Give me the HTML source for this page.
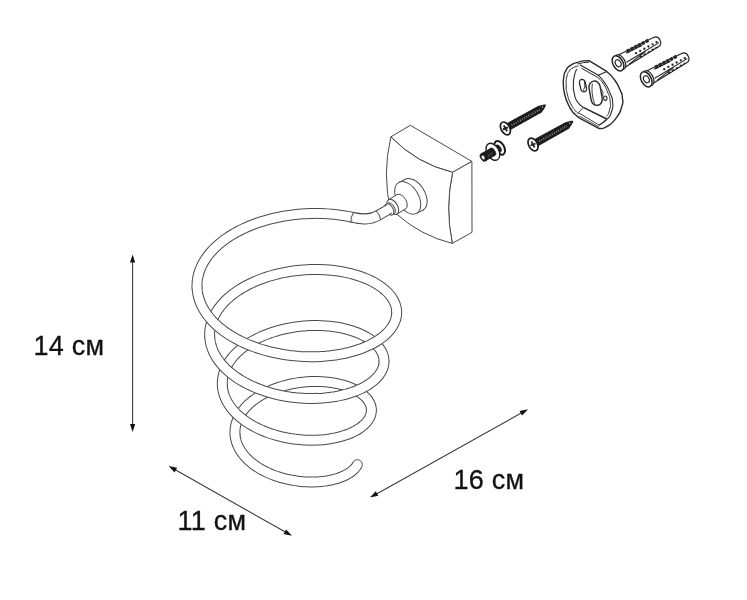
<!DOCTYPE html>
<html lang="ru"><head><meta charset="utf-8"><title>14 см × 16 см × 11 см</title>
<style>
html,body{margin:0;padding:0;background:#fff;}
body{width:747px;height:600px;overflow:hidden;}
svg{display:block;}
.t{font-family:"Liberation Sans",sans-serif;font-size:27px;fill:#111;stroke:#111;stroke-width:0.3px;letter-spacing:0.25px;}
.l{fill:none;stroke:#4a4a4a;stroke-width:1;stroke-linecap:round;stroke-linejoin:round;}
.w{fill:#fff;stroke:#4a4a4a;stroke-width:1;stroke-linejoin:round;}
.k{fill:#222;stroke:none;}
</style></head><body>
<svg width="747" height="600" viewBox="0 0 747 600">
<rect width="747" height="600" fill="#fff"/>
<!--BLOCK-->
<path class="w" d="M390.9 136.9 L410.3 125.3 L471.9 161.4 L452.6 172.3 Q416.55 163.7 390.9 136.9 Z"/>
<path class="w" d="M452.6 172.3 L471.9 161.4 L472.0 232.3 L452.3 243.4 Q444.85 207.6 452.6 172.3 Z"/>
<path class="w" d="M390.9 136.9 Q416.55 163.7 452.6 172.3 Q444.85 207.6 452.3 243.4 Q420.85 235.75 396.7 214.1 L391.0 212.0 Q381.8 174.5 390.9 136.9 Z"/>
<ellipse cx="414.10" cy="194.70" rx="17.80" ry="10.80" transform="rotate(59.08 414.10 194.70)" class="w" />
<path d="M398.55 182.63 L404.95 179.43 L423.25 209.97 L416.85 213.17 Z" fill="#fff" stroke="none"/>
<path class="l" d="M398.55 182.63 L404.95 179.43 M423.25 209.97 L416.85 213.17"/>
<ellipse cx="407.70" cy="197.90" rx="17.80" ry="10.80" transform="rotate(59.08 407.70 197.90)" class="w" />
<path d="M388.50 199.72 L397.13 194.56 L405.66 208.80 L397.04 213.97 Z" fill="#fff" stroke="none"/>
<path class="w" d="M397.13 194.56 A8.30 4.81 59.08 0 1 405.66 208.80" />
<path class="l" d="M388.50 199.72 L397.13 194.56 M405.66 208.80 L397.04 213.97"/>
<ellipse cx="392.77" cy="206.84" rx="8.30" ry="4.81" transform="rotate(59.08 392.77 206.84)" class="w" />
<ellipse cx="390.83" cy="208.47" rx="6.30" ry="3.65" transform="rotate(59.08 390.83 208.47)" class="w" />
<path d="M386.05 203.99 L387.59 203.07 L394.07 213.88 L392.53 214.80 Z" fill="#fff" stroke="none"/>
<ellipse cx="389.29" cy="209.40" rx="6.30" ry="3.65" transform="rotate(59.08 389.29 209.40)" class="w" />
<!--HW-->
<path d="M502.67 122.48 L507.51 122.75 L538.05 105.93 L544.12 104.49 L545.81 104.45 L545.83 105.71 L544.22 108.78 L541.66 112.39 L511.32 129.56 L509.01 133.83 Z" fill="#1c1c1c"/>
<line x1="511.66" y1="125.25" x2="539.56" y2="109.66" stroke="#9c9c9c" stroke-width="2.0" stroke-dasharray="0.8 1.6"/>
<circle cx="542.44" cy="107.02" r="0.7" fill="#ccc"/>
<ellipse cx="505.40" cy="128.40" rx="6.9" ry="4.3" transform="rotate(60.82 505.40 128.40)" fill="#fff" stroke="#1c1c1c" stroke-width="1.7"/>
<path d="M503.79 125.52 L507.01 131.28 M502.90 129.40 L507.90 127.40" stroke="#1c1c1c" stroke-width="1.8" fill="none"/>
<path d="M530.27 138.58 L535.12 138.85 L565.35 122.22 L571.42 120.78 L573.12 120.75 L573.13 122.00 L571.52 125.08 L568.95 128.68 L538.92 145.67 L536.60 149.93 Z" fill="#1c1c1c"/>
<line x1="539.26" y1="141.35" x2="566.86" y2="125.96" stroke="#9c9c9c" stroke-width="2.0" stroke-dasharray="0.8 1.6"/>
<circle cx="569.74" cy="123.32" r="0.7" fill="#ccc"/>
<ellipse cx="533.00" cy="144.50" rx="6.9" ry="4.3" transform="rotate(60.85 533.00 144.50)" fill="#fff" stroke="#1c1c1c" stroke-width="1.7"/>
<path d="M531.39 141.62 L534.61 147.38 M530.50 145.50 L535.50 143.50" stroke="#1c1c1c" stroke-width="1.8" fill="none"/>
<ellipse cx="499.66" cy="147.86" rx="7.40" ry="4.50" transform="rotate(59.87 499.66 147.86)" fill="#fff" stroke="#1c1c1c" stroke-width="2.00"/>
<line x1="492.91" y1="151.78" x2="498.54" y2="148.52" stroke="#1c1c1c" stroke-width="8.2"/>
<ellipse cx="498.54" cy="148.52" rx="4.10" ry="2.40" transform="rotate(59.87 498.54 148.52)" fill="#1c1c1c" stroke="#1c1c1c" stroke-width="0.50"/>
<ellipse cx="492.91" cy="151.78" rx="9.20" ry="6.00" transform="rotate(59.87 492.91 151.78)" fill="#fff" stroke="#1c1c1c" stroke-width="1.40"/>
<line x1="483.66" y1="157.15" x2="492.74" y2="151.88" stroke="#1c1c1c" stroke-width="8.9"/>
<ellipse cx="492.74" cy="151.88" rx="4.30" ry="2.50" transform="rotate(59.87 492.74 151.88)" fill="#1c1c1c" stroke="#1c1c1c" stroke-width="0.50"/>
<line x1="486.40" y1="156.49" x2="492.45" y2="152.97" stroke="#777" stroke-width="2.2" stroke-dasharray="0.6 1.4"/>
<ellipse cx="483.57" cy="157.20" rx="4.45" ry="3.10" transform="rotate(59.87 483.57 157.20)" fill="#1c1c1c" stroke="#1c1c1c" stroke-width="0.50"/>
<ellipse cx="483.14" cy="157.45" rx="2.30" ry="1.50" transform="rotate(59.87 483.14 157.45)" fill="#fff" stroke="#1c1c1c" stroke-width="0.40"/>
<path d="M563.40 86.00 C563.50 83.17 562.83 82.73 563.70 77.50 C564.57 72.27 563.70 74.37 566.00 70.30 C568.30 66.23 566.73 67.97 570.60 65.30 C574.47 62.63 573.43 63.77 577.60 62.30 C581.77 60.83 581.27 61.37 583.10 60.90 L589.00 60.60 L606.70 71.40 C609.20 74.07 609.80 73.37 614.20 79.40 C618.60 85.43 617.17 83.30 619.90 89.50 C622.63 95.70 621.80 92.20 622.40 98.00 C623.00 103.80 623.80 100.20 621.70 106.90 C619.60 113.60 621.10 111.53 616.10 118.10 C611.10 124.67 612.33 123.10 606.70 126.60 C601.07 130.10 601.70 127.93 599.20 128.60 L579.10 117.80 C577.73 116.60 577.43 116.60 575.00 114.20 C572.57 111.80 574.33 114.47 571.80 110.60 C569.27 106.73 569.83 108.30 567.40 102.60 C564.97 96.90 565.83 99.03 564.50 93.50 C563.17 87.97 563.77 88.50 563.40 86.00 Z" fill="#fff" stroke="#2a2a2a" stroke-width="1.4" stroke-linejoin="round"/>
<path d="M577.6 64.0 L583.4 62.6 L589.2 62.2" stroke="#2a2a2a" stroke-width="1" fill="none"/>
<path d="M579.8 64.8 L598.3 75.2 C600.50 77.83 600.93 77.00 604.90 83.10 C608.87 89.20 607.63 87.20 610.20 93.50 C612.77 99.80 612.13 96.00 612.60 102.00 C613.07 108.00 613.50 105.73 611.60 111.50 C609.70 117.27 611.03 114.73 606.90 119.30 C602.77 123.87 601.77 123.23 599.20 125.20" fill="none" stroke="#2a2a2a" stroke-width="1.1"/>
<path d="M598.3 75.2 L606.7 71.4" fill="none" stroke="#2a2a2a" stroke-width="1.1"/>
<path d="M578.80 113.80 C577.63 112.73 577.97 113.93 575.30 110.60 C572.63 107.27 573.43 109.17 570.80 103.80 C568.17 98.43 568.93 100.70 567.40 94.50 C565.87 88.30 566.40 91.03 566.20 85.20 C566.00 79.37 565.80 81.67 566.80 77.00 C567.80 72.33 567.07 74.30 569.20 71.20 C571.33 68.10 570.13 69.47 573.20 67.70 C576.27 65.93 576.67 66.50 578.40 65.90" fill="none" stroke="#2a2a2a" stroke-width="1"/>
<path d="M581.40 68.20 L597.3 77.2 C599.20 79.20 599.53 78.10 603.00 83.20 C606.47 88.30 605.30 86.40 607.70 92.50 C610.10 98.60 609.63 95.50 610.20 101.50 C610.77 107.50 610.57 105.50 609.40 110.50 C608.23 115.50 607.60 114.50 606.70 116.50" fill="none" stroke="#2a2a2a" stroke-width="1"/>
<path d="M576.70 69.00 C575.93 71.27 575.50 70.40 574.40 75.80 C573.30 81.20 573.43 79.37 573.40 85.20 C573.37 91.03 573.03 87.87 574.30 93.30 C575.57 98.73 574.20 96.83 577.20 101.50 C580.20 106.17 581.27 105.37 583.30 107.30" fill="none" stroke="#2a2a2a" stroke-width="1.1"/>
<path d="M583.3 107.3 L606.7 119.0" fill="none" stroke="#2a2a2a" stroke-width="1.5"/>
<path d="M583.3 107.3 L578.4 112.6 L599.2 125.2 L606.7 119.0" fill="none" stroke="#2a2a2a" stroke-width="0.9"/>
<path d="M579.6 116.1 L599.2 127.0" fill="none" stroke="#2a2a2a" stroke-width="0.8"/>
<rect x="-2.90" y="-6.30" width="5.80" height="12.60" rx="2.90" ry="3.33" transform="translate(583.00 85.60) rotate(-13.0)" fill="#fff" stroke="#2a2a2a" stroke-width="1.30"/>
<path d="M584.3 80.6 L584.9 86.5 L583.4 90.6 M584.9 86.5 L586.0 87.0" fill="none" stroke="#2a2a2a" stroke-width="0.9"/>
<rect x="-5.60" y="-12.30" width="11.20" height="24.60" rx="5.60" ry="6.44" transform="translate(595.60 93.20) rotate(-10.0)" fill="#fff" stroke="#2a2a2a" stroke-width="1.40"/>
<path d="M592.3 83.6 C591.4 90 592.2 98 594.6 103.6" fill="none" stroke="#2a2a2a" stroke-width="0.9"/>
<path d="M600.9 88.6 L603.0 92.0 L602.6 96.5" fill="none" stroke="#2a2a2a" stroke-width="0.9"/>
<ellipse cx="605.3" cy="98.2" rx="1.7" ry="2.2" fill="#fff" stroke="#2a2a2a" stroke-width="1.1"/>
<path d="M616.36 56.01 L653.98 37.33 Q657.92 35.79 660.05 40.20 Q662.09 44.44 658.84 46.41 L623.07 68.52 Z" fill="#fff" stroke="#262626" stroke-width="1.2" stroke-linejoin="round"/>
<line x1="626.92" y1="51.38" x2="649.13" y2="39.93" stroke="#262626" stroke-width="3.4" stroke-dasharray="3.1 1.1"/>
<line x1="626.21" y1="53.23" x2="642.26" y2="45.09" stroke="#262626" stroke-width="1.4"/>
<path d="M626.56 62.34 L659.09 42.65M628.76 64.34 L645.56 51.25" fill="none" stroke="#262626" stroke-width="1.1"/>
<path d="M639.69 57.23 L656.94 47.09" fill="none" stroke="#262626" stroke-width="1.6" stroke-dasharray="2.4 2.2"/>
<circle cx="636.05" cy="53.18" r="1.15" fill="#262626"/>
<circle cx="640.19" cy="50.96" r="1.15" fill="#262626"/>
<circle cx="644.33" cy="48.74" r="1.15" fill="#262626"/>
<circle cx="648.47" cy="46.52" r="1.15" fill="#262626"/>
<circle cx="652.61" cy="44.30" r="1.15" fill="#262626"/>
<circle cx="656.58" cy="42.18" r="1.15" fill="#262626"/>
<ellipse cx="620.11" cy="62.17" rx="8.00" ry="4.80" transform="rotate(61.82 620.11 62.17)" fill="#fff" stroke="#262626" stroke-width="1.20"/>
<ellipse cx="618.00" cy="63.30" rx="8.20" ry="5.00" transform="rotate(61.82 618.00 63.30)" fill="#fff" stroke="#262626" stroke-width="1.50"/>
<ellipse cx="618.18" cy="63.21" rx="3.70" ry="2.70" transform="rotate(61.82 618.18 63.21)" fill="#fff" stroke="#262626" stroke-width="1.20"/>
<path d="M644.56 72.01 L682.18 53.33 Q686.12 51.79 688.25 56.20 Q690.29 60.44 687.04 62.41 L651.27 84.52 Z" fill="#fff" stroke="#262626" stroke-width="1.2" stroke-linejoin="round"/>
<line x1="655.12" y1="67.38" x2="677.33" y2="55.93" stroke="#262626" stroke-width="3.4" stroke-dasharray="3.1 1.1"/>
<line x1="654.41" y1="69.23" x2="670.46" y2="61.09" stroke="#262626" stroke-width="1.4"/>
<path d="M654.76 78.34 L687.29 58.65M656.96 80.34 L673.76 67.25" fill="none" stroke="#262626" stroke-width="1.1"/>
<path d="M667.89 73.23 L685.14 63.09" fill="none" stroke="#262626" stroke-width="1.6" stroke-dasharray="2.4 2.2"/>
<circle cx="664.25" cy="69.18" r="1.15" fill="#262626"/>
<circle cx="668.39" cy="66.96" r="1.15" fill="#262626"/>
<circle cx="672.53" cy="64.74" r="1.15" fill="#262626"/>
<circle cx="676.67" cy="62.52" r="1.15" fill="#262626"/>
<circle cx="680.81" cy="60.30" r="1.15" fill="#262626"/>
<circle cx="684.78" cy="58.18" r="1.15" fill="#262626"/>
<ellipse cx="648.31" cy="78.17" rx="8.00" ry="4.80" transform="rotate(61.82 648.31 78.17)" fill="#fff" stroke="#262626" stroke-width="1.20"/>
<ellipse cx="646.20" cy="79.30" rx="8.20" ry="5.00" transform="rotate(61.82 646.20 79.30)" fill="#fff" stroke="#262626" stroke-width="1.50"/>
<ellipse cx="646.38" cy="79.21" rx="3.70" ry="2.70" transform="rotate(61.82 646.38 79.21)" fill="#fff" stroke="#262626" stroke-width="1.20"/>
<!--SPIRAL-->
<path d="M351.63 217.17 C361.35 219.5 369.74 220.3 378.4 215.3 L389.4 208.85" fill="none" stroke="#4a4a4a" stroke-width="10.90"/>
<path d="M350.93 217.00 C361.35 219.5 369.74 220.3 378.4 215.3 L390.0 208.5" fill="none" stroke="#fff" stroke-width="8.90"/>
<path d="M353.10 217.47 L351.63 217.17 L348.32 216.48 L344.96 215.87 L341.55 215.32 L338.10 214.84 L334.60 214.42 L331.07 214.08 L327.50 213.81 L323.91 213.61 L320.29 213.48 L316.66 213.42 L313.00 213.44 L309.34 213.53 L305.67 213.69 L302.00 213.92 L298.33 214.22 L294.67 214.60 L291.02 215.05 L287.39 215.57 L283.77 216.17 L280.18 216.83 L276.62 217.57 L273.09 218.37 L269.59 219.25 L266.14 220.19 L262.73 221.20 L259.37 222.27 L256.07 223.41 L252.82 224.62 L249.63 225.89 L246.51 227.22 L243.45 228.61 L240.47 230.06 L237.56 231.57 L234.73 233.13 L231.98 234.75 L229.31 236.42 L226.74 238.14 L224.25 239.91 L221.86 241.72 L219.57 243.59 L217.37 245.49 L215.28 247.44 L213.29 249.42 L211.40 251.45 L209.63 253.51 L207.96 255.60 L206.41 257.72 L204.97 259.87 L203.64 262.04 L202.44 264.24 L201.35 266.47 L200.38 268.71 L199.53 270.96 L198.80 273.23 L198.19 275.52 L197.71 277.81 L197.35 280.11 L197.11 282.41 L196.99 284.72 L197.00 287.03 L197.01 288.52" fill="none" stroke="#4a4a4a" stroke-width="10.90"/>
<path d="M353.20 217.49 L351.63 217.17 L348.32 216.48 L344.96 215.87 L341.55 215.32 L338.10 214.84 L334.60 214.42 L331.07 214.08 L327.50 213.81 L323.91 213.61 L320.29 213.48 L316.66 213.42 L313.00 213.44 L309.34 213.53 L305.67 213.69 L302.00 213.92 L298.33 214.22 L294.67 214.60 L291.02 215.05 L287.39 215.57 L283.77 216.17 L280.18 216.83 L276.62 217.57 L273.09 218.37 L269.59 219.25 L266.14 220.19 L262.73 221.20 L259.37 222.27 L256.07 223.41 L252.82 224.62 L249.63 225.89 L246.51 227.22 L243.45 228.61 L240.47 230.06 L237.56 231.57 L234.73 233.13 L231.98 234.75 L229.31 236.42 L226.74 238.14 L224.25 239.91 L221.86 241.72 L219.57 243.59 L217.37 245.49 L215.28 247.44 L213.29 249.42 L211.40 251.45 L209.63 253.51 L207.96 255.60 L206.41 257.72 L204.97 259.87 L203.64 262.04 L202.44 264.24 L201.35 266.47 L200.38 268.71 L199.53 270.96 L198.80 273.23 L198.19 275.52 L197.71 277.81 L197.35 280.11 L197.11 282.41 L196.99 284.72 L197.00 287.03 L197.01 288.62" fill="none" stroke="#fff" stroke-width="8.90"/>
<path d="M396.82 312.97 L396.67 311.48 L396.43 308.99 L395.93 306.52 L395.17 304.08 L394.15 301.66 L392.87 299.28 L391.34 296.94 L389.56 294.66 L387.54 292.44 L385.29 290.28 L382.81 288.20 L380.10 286.20 L377.19 284.29 L374.06 282.47 L370.74 280.74 L367.24 279.13 L363.56 277.62 L359.71 276.23 L355.71 274.95 L351.56 273.80 L347.28 272.78 L342.88 271.89 L338.38 271.14 L333.78 270.52 L329.09 270.04 L324.34 269.71 L319.53 269.52 L314.68 269.47 L309.80 269.57 L304.90 269.82 L300.00 270.21 L295.11 270.75 L290.25 271.44 L285.42 272.27 L280.65 273.25 L275.93 274.36 L271.30 275.62 L266.75 277.01 L262.31 278.54 L257.98 280.19 L253.77 281.98 L249.70 283.88 L245.78 285.90 L242.01 288.04 L238.42 290.28 L235.00 292.63 L231.76 295.08 L228.72 297.61 L225.88 300.23 L223.26 302.93 L220.84 305.71 L218.65 308.55 L216.69 311.45 L214.96 314.40 L213.47 317.40 L212.22 320.43 L211.21 323.50 L210.45 326.59 L209.94 329.70 L209.67 332.81 L209.65 335.93 L209.64 337.42" fill="none" stroke="#4a4a4a" stroke-width="10.90"/>
<path d="M396.82 313.07 L396.67 311.48 L396.43 308.99 L395.93 306.52 L395.17 304.08 L394.15 301.66 L392.87 299.28 L391.34 296.94 L389.56 294.66 L387.54 292.44 L385.29 290.28 L382.81 288.20 L380.10 286.20 L377.19 284.29 L374.06 282.47 L370.74 280.74 L367.24 279.13 L363.56 277.62 L359.71 276.23 L355.71 274.95 L351.56 273.80 L347.28 272.78 L342.88 271.89 L338.38 271.14 L333.78 270.52 L329.09 270.04 L324.34 269.71 L319.53 269.52 L314.68 269.47 L309.80 269.57 L304.90 269.82 L300.00 270.21 L295.11 270.75 L290.25 271.44 L285.42 272.27 L280.65 273.25 L275.93 274.36 L271.30 275.62 L266.75 277.01 L262.31 278.54 L257.98 280.19 L253.77 281.98 L249.70 283.88 L245.78 285.90 L242.01 288.04 L238.42 290.28 L235.00 292.63 L231.76 295.08 L228.72 297.61 L225.88 300.23 L223.26 302.93 L220.84 305.71 L218.65 308.55 L216.69 311.45 L214.96 314.40 L213.47 317.40 L212.22 320.43 L211.21 323.50 L210.45 326.59 L209.94 329.70 L209.67 332.81 L209.65 335.93 L209.64 337.52" fill="none" stroke="#fff" stroke-width="8.90"/>
<path d="M384.18 361.87 L384.02 360.38 L383.80 358.27 L383.35 356.18 L382.68 354.11 L381.77 352.06 L380.65 350.05 L379.31 348.08 L377.75 346.16 L375.99 344.28 L374.02 342.47 L371.85 340.72 L369.49 339.04 L366.95 337.44 L364.23 335.92 L361.34 334.49 L358.29 333.14 L355.09 331.90 L351.75 330.75 L348.27 329.71 L344.67 328.77 L340.96 327.95 L337.14 327.24 L333.23 326.65 L329.24 326.17 L325.18 325.82 L321.06 325.60 L316.90 325.49 L312.70 325.52 L308.47 325.67 L304.24 325.94 L300.00 326.35 L295.77 326.88 L291.57 327.54 L287.40 328.32 L283.28 329.22 L279.21 330.25 L275.21 331.40 L271.29 332.67 L267.45 334.05 L263.72 335.54 L260.10 337.14 L256.59 338.85 L253.22 340.66 L249.98 342.56 L246.88 344.56 L243.94 346.65 L241.16 348.82 L238.55 351.07 L236.12 353.39 L233.86 355.78 L231.80 358.23 L229.93 360.73 L228.25 363.29 L226.77 365.89 L225.50 368.53 L224.44 371.21 L223.59 373.90 L222.95 376.62 L222.52 379.35 L222.30 382.09 L222.30 384.82 L222.30 386.32" fill="none" stroke="#4a4a4a" stroke-width="10.90"/>
<path d="M384.19 361.97 L384.02 360.38 L383.80 358.27 L383.35 356.18 L382.68 354.11 L381.77 352.06 L380.65 350.05 L379.31 348.08 L377.75 346.16 L375.99 344.28 L374.02 342.47 L371.85 340.72 L369.49 339.04 L366.95 337.44 L364.23 335.92 L361.34 334.49 L358.29 333.14 L355.09 331.90 L351.75 330.75 L348.27 329.71 L344.67 328.77 L340.96 327.95 L337.14 327.24 L333.23 326.65 L329.24 326.17 L325.18 325.82 L321.06 325.60 L316.90 325.49 L312.70 325.52 L308.47 325.67 L304.24 325.94 L300.00 326.35 L295.77 326.88 L291.57 327.54 L287.40 328.32 L283.28 329.22 L279.21 330.25 L275.21 331.40 L271.29 332.67 L267.45 334.05 L263.72 335.54 L260.10 337.14 L256.59 338.85 L253.22 340.66 L249.98 342.56 L246.88 344.56 L243.94 346.65 L241.16 348.82 L238.55 351.07 L236.12 353.39 L233.86 355.78 L231.80 358.23 L229.93 360.73 L228.25 363.29 L226.77 365.89 L225.50 368.53 L224.44 371.21 L223.59 373.90 L222.95 376.62 L222.52 379.35 L222.30 382.09 L222.30 384.82 L222.30 386.42" fill="none" stroke="#fff" stroke-width="8.90"/>
<path d="M371.55 410.76 L371.37 409.28 L371.17 407.55 L370.77 405.84 L370.18 404.14 L369.40 402.47 L368.43 400.82 L367.28 399.22 L365.94 397.65 L364.43 396.13 L362.75 394.65 L360.90 393.24 L358.89 391.88 L356.72 390.59 L354.40 389.37 L351.94 388.23 L349.35 387.16 L346.63 386.17 L343.79 385.27 L340.84 384.46 L337.78 383.74 L334.63 383.11 L331.40 382.59 L328.09 382.16 L324.71 381.83 L321.27 381.60 L317.79 381.48 L314.27 381.47 L310.72 381.56 L307.15 381.76 L303.58 382.07 L300.00 382.48 L296.44 383.01 L292.89 383.63 L289.38 384.37 L285.91 385.20 L282.48 386.14 L279.12 387.18 L275.82 388.32 L272.60 389.56 L269.46 390.89 L266.42 392.31 L263.48 393.82 L260.65 395.41 L257.94 397.09 L255.35 398.84 L252.89 400.66 L250.56 402.56 L248.38 404.52 L246.35 406.54 L244.47 408.62 L242.75 410.74 L241.20 412.92 L239.81 415.14 L238.58 417.39 L237.53 419.67 L236.66 421.98 L235.96 424.31 L235.44 426.65 L235.10 429.01 L234.94 431.37 L234.95 433.73 L234.96 435.22" fill="none" stroke="#4a4a4a" stroke-width="10.90"/>
<path d="M371.56 410.86 L371.37 409.28 L371.17 407.55 L370.77 405.84 L370.18 404.14 L369.40 402.47 L368.43 400.82 L367.28 399.22 L365.94 397.65 L364.43 396.13 L362.75 394.65 L360.90 393.24 L358.89 391.88 L356.72 390.59 L354.40 389.37 L351.94 388.23 L349.35 387.16 L346.63 386.17 L343.79 385.27 L340.84 384.46 L337.78 383.74 L334.63 383.11 L331.40 382.59 L328.09 382.16 L324.71 381.83 L321.27 381.60 L317.79 381.48 L314.27 381.47 L310.72 381.56 L307.15 381.76 L303.58 382.07 L300.00 382.48 L296.44 383.01 L292.89 383.63 L289.38 384.37 L285.91 385.20 L282.48 386.14 L279.12 387.18 L275.82 388.32 L272.60 389.56 L269.46 390.89 L266.42 392.31 L263.48 393.82 L260.65 395.41 L257.94 397.09 L255.35 398.84 L252.89 400.66 L250.56 402.56 L248.38 404.52 L246.35 406.54 L244.47 408.62 L242.75 410.74 L241.20 412.92 L239.81 415.14 L238.58 417.39 L237.53 419.67 L236.66 421.98 L235.96 424.31 L235.44 426.65 L235.10 429.01 L234.94 431.37 L234.95 433.73 L234.96 435.32" fill="none" stroke="#fff" stroke-width="8.90"/>
<circle cx="357.37" cy="464.64" r="4.95" fill="#fff" stroke="#4a4a4a" stroke-width="1"/>
<path d="M197.00 287.03 L197.25 290.51 L197.78 293.99 L198.58 297.44 L199.67 300.85 L201.02 304.23 L202.65 307.56 L204.53 310.84 L206.68 314.05 L209.07 317.19 L211.71 320.26 L214.59 323.23 L217.70 326.12 L221.02 328.91 L224.55 331.59 L228.29 334.16 L232.21 336.61 L236.31 338.94 L240.57 341.14 L244.99 343.22 L249.56 345.15 L254.25 346.95 L259.05 348.60 L263.96 350.10 L268.95 351.46 L274.02 352.66 L279.16 353.71 L284.33 354.61 L289.54 355.35 L294.77 355.93 L300.00 356.36 L305.22 356.62 L310.41 356.74 L315.57 356.70 L320.67 356.50 L325.70 356.16 L330.66 355.66 L335.51 355.02 L340.26 354.24 L344.89 353.32 L349.39 352.26 L353.74 351.07 L357.94 349.75 L361.97 348.32 L365.82 346.77 L369.48 345.10 L372.94 343.34 L376.19 341.47 L379.23 339.51 L382.05 337.47 L384.63 335.35 L386.98 333.16 L389.09 330.90 L390.94 328.59 L392.54 326.23 L393.89 323.83 L394.97 321.39 L395.79 318.93 L396.35 316.45 L396.65 313.96 L396.67 311.48" fill="none" stroke="#4a4a4a" stroke-width="10.90"/>
<path d="M196.95 286.33 L197.00 287.03 L197.25 290.51 L197.78 293.99 L198.58 297.44 L199.67 300.85 L201.02 304.23 L202.65 307.56 L204.53 310.84 L206.68 314.05 L209.07 317.19 L211.71 320.26 L214.59 323.23 L217.70 326.12 L221.02 328.91 L224.55 331.59 L228.29 334.16 L232.21 336.61 L236.31 338.94 L240.57 341.14 L244.99 343.22 L249.56 345.15 L254.25 346.95 L259.05 348.60 L263.96 350.10 L268.95 351.46 L274.02 352.66 L279.16 353.71 L284.33 354.61 L289.54 355.35 L294.77 355.93 L300.00 356.36 L305.22 356.62 L310.41 356.74 L315.57 356.70 L320.67 356.50 L325.70 356.16 L330.66 355.66 L335.51 355.02 L340.26 354.24 L344.89 353.32 L349.39 352.26 L353.74 351.07 L357.94 349.75 L361.97 348.32 L365.82 346.77 L369.48 345.10 L372.94 343.34 L376.19 341.47 L379.23 339.51 L382.05 337.47 L384.63 335.35 L386.98 333.16 L389.09 330.90 L390.94 328.59 L392.54 326.23 L393.89 323.83 L394.97 321.39 L395.79 318.93 L396.35 316.45 L396.65 313.96 L396.67 311.48 L396.68 310.78" fill="none" stroke="#fff" stroke-width="8.90"/>
<path d="M209.65 335.93 L209.88 339.03 L210.36 342.13 L211.08 345.20 L212.04 348.25 L213.24 351.26 L214.68 354.23 L216.34 357.15 L218.23 360.01 L220.35 362.81 L222.67 365.54 L225.20 368.19 L227.93 370.77 L230.85 373.25 L233.96 375.64 L237.23 377.94 L240.67 380.13 L244.27 382.22 L248.01 384.19 L251.88 386.05 L255.88 387.79 L259.99 389.40 L264.20 390.89 L268.49 392.25 L272.86 393.48 L277.30 394.57 L281.79 395.54 L286.31 396.36 L290.86 397.05 L295.43 397.60 L300.00 398.02 L304.56 398.30 L309.09 398.44 L313.59 398.45 L318.04 398.32 L322.43 398.07 L326.75 397.68 L330.98 397.17 L335.12 396.53 L339.15 395.77 L343.07 394.89 L346.85 393.90 L350.50 392.80 L354.00 391.59 L357.35 390.29 L360.53 388.89 L363.54 387.39 L366.36 385.82 L369.00 384.16 L371.44 382.43 L373.68 380.63 L375.71 378.77 L377.53 376.86 L379.13 374.90 L380.51 372.89 L381.67 370.85 L382.60 368.79 L383.30 366.70 L383.77 364.60 L384.01 362.49 L384.02 360.38" fill="none" stroke="#4a4a4a" stroke-width="10.90"/>
<path d="M209.60 335.23 L209.65 335.93 L209.88 339.03 L210.36 342.13 L211.08 345.20 L212.04 348.25 L213.24 351.26 L214.68 354.23 L216.34 357.15 L218.23 360.01 L220.35 362.81 L222.67 365.54 L225.20 368.19 L227.93 370.77 L230.85 373.25 L233.96 375.64 L237.23 377.94 L240.67 380.13 L244.27 382.22 L248.01 384.19 L251.88 386.05 L255.88 387.79 L259.99 389.40 L264.20 390.89 L268.49 392.25 L272.86 393.48 L277.30 394.57 L281.79 395.54 L286.31 396.36 L290.86 397.05 L295.43 397.60 L300.00 398.02 L304.56 398.30 L309.09 398.44 L313.59 398.45 L318.04 398.32 L322.43 398.07 L326.75 397.68 L330.98 397.17 L335.12 396.53 L339.15 395.77 L343.07 394.89 L346.85 393.90 L350.50 392.80 L354.00 391.59 L357.35 390.29 L360.53 388.89 L363.54 387.39 L366.36 385.82 L369.00 384.16 L371.44 382.43 L373.68 380.63 L375.71 378.77 L377.53 376.86 L379.13 374.90 L380.51 372.89 L381.67 370.85 L382.60 368.79 L383.30 366.70 L383.77 364.60 L384.01 362.49 L384.02 360.38 L384.03 359.68" fill="none" stroke="#fff" stroke-width="8.90"/>
<path d="M222.30 384.82 L222.51 387.56 L222.94 390.27 L223.57 392.97 L224.41 395.65 L225.46 398.29 L226.71 400.89 L228.15 403.45 L229.79 405.97 L231.62 408.42 L233.62 410.82 L235.81 413.15 L238.16 415.41 L240.68 417.60 L243.36 419.70 L246.18 421.72 L249.14 423.66 L252.23 425.49 L255.45 427.24 L258.77 428.88 L262.21 430.42 L265.73 431.85 L269.34 433.18 L273.02 434.39 L276.77 435.50 L280.57 436.49 L284.42 437.36 L288.29 438.12 L292.19 438.76 L296.09 439.28 L300.00 439.68 L303.90 439.97 L307.77 440.15 L311.61 440.20 L315.41 440.15 L319.15 439.98 L322.84 439.70 L326.45 439.31 L329.97 438.82 L333.41 438.22 L336.74 437.52 L339.96 436.73 L343.07 435.85 L346.04 434.87 L348.89 433.81 L351.59 432.67 L354.14 431.45 L356.53 430.16 L358.76 428.81 L360.83 427.39 L362.72 425.91 L364.44 424.39 L365.97 422.82 L367.32 421.20 L368.48 419.56 L369.45 417.88 L370.23 416.18 L370.81 414.47 L371.19 412.74 L371.38 411.01 L371.37 409.28" fill="none" stroke="#4a4a4a" stroke-width="10.90"/>
<path d="M222.25 384.13 L222.30 384.82 L222.51 387.56 L222.94 390.27 L223.57 392.97 L224.41 395.65 L225.46 398.29 L226.71 400.89 L228.15 403.45 L229.79 405.97 L231.62 408.42 L233.62 410.82 L235.81 413.15 L238.16 415.41 L240.68 417.60 L243.36 419.70 L246.18 421.72 L249.14 423.66 L252.23 425.49 L255.45 427.24 L258.77 428.88 L262.21 430.42 L265.73 431.85 L269.34 433.18 L273.02 434.39 L276.77 435.50 L280.57 436.49 L284.42 437.36 L288.29 438.12 L292.19 438.76 L296.09 439.28 L300.00 439.68 L303.90 439.97 L307.77 440.15 L311.61 440.20 L315.41 440.15 L319.15 439.98 L322.84 439.70 L326.45 439.31 L329.97 438.82 L333.41 438.22 L336.74 437.52 L339.96 436.73 L343.07 435.85 L346.04 434.87 L348.89 433.81 L351.59 432.67 L354.14 431.45 L356.53 430.16 L358.76 428.81 L360.83 427.39 L362.72 425.91 L364.44 424.39 L365.97 422.82 L367.32 421.20 L368.48 419.56 L369.45 417.88 L370.23 416.18 L370.81 414.47 L371.19 412.74 L371.38 411.01 L371.37 409.28 L371.37 408.58" fill="none" stroke="#fff" stroke-width="8.90"/>
<path d="M234.95 433.73 L235.12 435.89 L235.45 438.04 L235.92 440.18 L236.54 442.31 L237.30 444.41 L238.21 446.48 L239.26 448.53 L240.44 450.54 L241.76 452.52 L243.21 454.45 L244.79 456.35 L246.50 458.19 L248.32 459.98 L250.25 461.72 L252.30 463.40 L254.45 465.03 L256.70 466.59 L259.04 468.08 L261.47 469.51 L263.98 470.86 L266.57 472.15 L269.23 473.36 L271.95 474.50 L274.73 475.56 L277.56 476.54 L280.43 477.44 L283.34 478.26 L286.28 479.00 L289.24 479.66 L292.21 480.23 L295.20 480.73 L298.18 481.14 L301.17 481.47 L304.14 481.71 L307.09 481.88 L310.01 481.96 L312.90 481.97 L315.76 481.89 L318.57 481.74 L321.32 481.51 L324.02 481.21 L326.65 480.84 L329.22 480.40 L331.70 479.88 L334.11 479.30 L336.43 478.66 L338.65 477.96 L340.78 477.20 L342.81 476.38 L344.74 475.51 L346.55 474.59 L348.25 473.63 L349.83 472.62 L351.29 471.57 L352.63 470.48 L353.84 469.37 L354.92 468.22 L355.87 467.05 L356.68 465.86 L357.37 464.64" fill="none" stroke="#4a4a4a" stroke-width="10.90"/>
<path d="M234.90 433.03 L234.95 433.73 L235.12 435.89 L235.45 438.04 L235.92 440.18 L236.54 442.31 L237.30 444.41 L238.21 446.48 L239.26 448.53 L240.44 450.54 L241.76 452.52 L243.21 454.45 L244.79 456.35 L246.50 458.19 L248.32 459.98 L250.25 461.72 L252.30 463.40 L254.45 465.03 L256.70 466.59 L259.04 468.08 L261.47 469.51 L263.98 470.86 L266.57 472.15 L269.23 473.36 L271.95 474.50 L274.73 475.56 L277.56 476.54 L280.43 477.44 L283.34 478.26 L286.28 479.00 L289.24 479.66 L292.21 480.23 L295.20 480.73 L298.18 481.14 L301.17 481.47 L304.14 481.71 L307.09 481.88 L310.01 481.96 L312.90 481.97 L315.76 481.89 L318.57 481.74 L321.32 481.51 L324.02 481.21 L326.65 480.84 L329.22 480.40 L331.70 479.88 L334.11 479.30 L336.43 478.66 L338.65 477.96 L340.78 477.20 L342.81 476.38 L344.74 475.51 L346.55 474.59 L348.25 473.63 L349.83 472.62 L351.29 471.57 L352.63 470.48 L353.84 469.37 L354.92 468.22 L355.87 467.05 L356.68 465.86 L357.37 464.64 L357.71 464.03" fill="none" stroke="#fff" stroke-width="8.90"/>
<path class="l" d="M353.3 212.7 Q350.3 217 350.9 222.2 M376.2 211.0 Q380.2 214.5 380.7 219.6"/>
<!--ARROWS-->
<line x1="132.60" y1="260.96" x2="132.60" y2="425.54" stroke="#3c3c3c" stroke-width="1.10"/>
<polygon points="132.60,254.40 130.00,262.60 135.20,262.60" fill="#111"/>
<polygon points="132.60,432.10 130.00,423.90 135.20,423.90" fill="#111"/>
<line x1="174.41" y1="469.33" x2="286.29" y2="532.57" stroke="#3c3c3c" stroke-width="1.10"/>
<polygon points="168.70,466.10 174.56,472.40 177.12,467.87" fill="#111"/>
<polygon points="292.00,535.80 283.58,534.03 286.14,529.50" fill="#111"/>
<line x1="375.63" y1="494.40" x2="522.27" y2="412.40" stroke="#3c3c3c" stroke-width="1.10"/>
<polygon points="369.90,497.60 378.33,495.87 375.79,491.33" fill="#111"/>
<polygon points="528.00,409.20 522.11,415.47 519.57,410.93" fill="#111"/>
<!--TEXT-->
<g style="will-change:transform;filter:grayscale(1)">
<text x="33.40" y="355.30" class="t">14 см</text>
<text x="453.40" y="488.60" class="t">16 см</text>
<text x="177.40" y="529.50" class="t">11 см</text>
</g>
</svg>
</body></html>
